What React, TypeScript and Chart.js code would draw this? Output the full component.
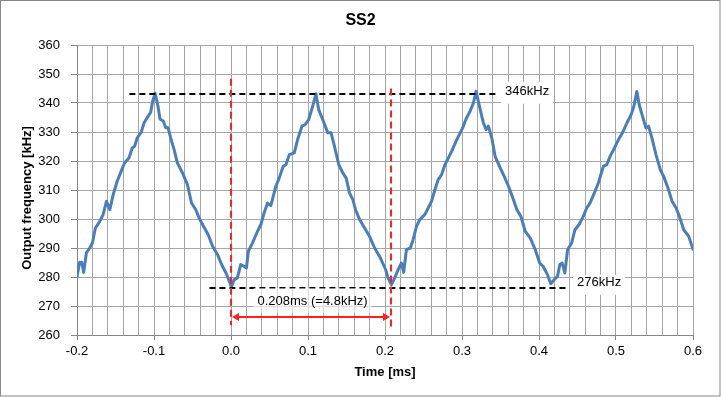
import React, { useEffect, useRef } from "react";
import { Chart, registerables } from "chart.js";

Chart.register(...registerables);

// ---- data ----
const timeMs: number[] = [
  -0.2, -0.1965, -0.1939, -0.1913, -0.1878, -0.1835, -0.18, -0.1761, -0.1704, -0.1661,
  -0.1617, -0.1574, -0.153, -0.1478, -0.1435, -0.1383, -0.1326, -0.1283, -0.1252, -0.1217,
  -0.1165, -0.113, -0.1078, -0.1043, -0.1022, -0.0987, -0.0948, -0.0922, -0.0878, -0.0848,
  -0.0817, -0.0783, -0.0739, -0.0696, -0.063, -0.0565, -0.0513, -0.0457, -0.0413, -0.0357,
  -0.0296, -0.0239, -0.0174, -0.0122, -0.0065, -0.0009, 0.0005, 0.0039, 0.0083, 0.0126,
  0.017, 0.02, 0.0226, 0.0278, 0.0343, 0.0387, 0.043, 0.0474, 0.0517, 0.0583,
  0.0626, 0.0678, 0.0713, 0.0757, 0.0822, 0.0865, 0.0922, 0.0965, 0.1009, 0.1061,
  0.1104, 0.1139, 0.12, 0.1257, 0.13, 0.1343, 0.14, 0.1452, 0.1496, 0.1539,
  0.1583, 0.1617, 0.167, 0.1735, 0.18, 0.1865, 0.193, 0.2009, 0.2039, 0.2083,
  0.2126, 0.217, 0.2213, 0.2243, 0.2278, 0.233, 0.2365, 0.2409, 0.2452, 0.2517,
  0.2561, 0.2604, 0.2648, 0.2691, 0.2735, 0.2778, 0.2822, 0.2865, 0.2922, 0.2965,
  0.3009, 0.3052, 0.3104, 0.3148, 0.3183, 0.3226, 0.3278, 0.3313, 0.3343, 0.3387,
  0.343, 0.3496, 0.3548, 0.3604, 0.3661, 0.3713, 0.3765, 0.3822, 0.3887, 0.3952,
  0.4009, 0.4053, 0.411, 0.4153, 0.4197, 0.424, 0.4271, 0.4301, 0.4336, 0.4371,
  0.4423, 0.4467, 0.4519, 0.4575, 0.4619, 0.4662, 0.4719, 0.4771, 0.4836, 0.488,
  0.4923, 0.498, 0.5032, 0.5084, 0.5141, 0.5197, 0.5232, 0.5271, 0.5301, 0.5345,
  0.5388, 0.5423, 0.5467, 0.5519, 0.5575, 0.5619, 0.5675, 0.5728, 0.578, 0.5823,
  0.588, 0.5945, 0.6,
];

const freqKHz: number[] = [
  280.2, 285.1, 285.1, 281.6, 288.3, 290.0, 291.7, 296.9, 299.2, 301.5,
  306.1, 303.2, 308.4, 313.0, 315.9, 319.3, 321.0, 324.5, 325.1, 328.0,
  330.0, 333.1, 335.4, 336.8, 340.0, 343.4, 338.9, 334.5, 333.7, 331.5,
  331.5, 327.9, 323.9, 319.3, 315.9, 311.8, 305.5, 303.2, 300.3, 297.5,
  294.6, 290.6, 287.7, 284.3, 281.4, 277.7, 276.6, 279.0, 279.7, 284.3,
  283.7, 283.1, 288.9, 291.7, 295.7, 298.0, 302.1, 305.5, 304.6, 311.3,
  314.1, 318.2, 318.7, 322.2, 322.8, 327.4, 332.0, 332.6, 334.3, 338.9,
  343.2, 337.7, 333.7, 329.7, 329.7, 325.1, 318.7, 315.9, 314.1, 309.0,
  306.7, 303.2, 299.8, 296.9, 294.0, 290.0, 287.1, 282.5, 279.7, 277.4,
  279.7, 282.5, 284.8, 281.6, 289.4, 290.0, 292.9, 297.5, 299.8, 301.5,
  303.8, 306.1, 310.1, 313.6, 315.3, 318.7, 321.0, 323.3, 326.8, 329.1,
  331.4, 334.5, 337.1, 340.0, 344.0, 338.9, 333.1, 330.8, 332.0, 327.9,
  321.6, 317.6, 314.7, 311.3, 307.2, 303.2, 300.9, 295.7, 293.4, 289.4,
  284.8, 283.7, 280.8, 277.7, 279.1, 280.2, 284.3, 284.8, 281.4, 289.4,
  291.7, 296.3, 298.0, 300.9, 303.8, 305.5, 309.0, 312.4, 318.2, 318.7,
  321.6, 324.5, 327.4, 329.7, 333.1, 336.0, 338.9, 344.0, 339.4, 335.4,
  331.4, 332.0, 327.9, 322.2, 317.0, 314.7, 310.7, 306.1, 303.8, 300.9,
  296.3, 294.0, 289.6,
];

// axis ranges / ticks
const xMin = -0.2;
const xMax = 0.6;
const xGridStep = 0.02;
const xLabelStep = 0.1;
const yMin = 260;
const yMax = 360;
const yStep = 10;

// texts
const chartTitle = "SS2";
const xTitle = "Time [ms]";
const yTitle = "Output frequency [kHz]";
const highLabel = "346kHz";
const lowLabel = "276kHz";
const periodLabel = "0.208ms (=4.8kHz)";

// annotation values, in data units
const highLevel = 343.2;
const highSpan = [-0.132, 0.347];
const highLabelAt = [0.356, 343.9];
const lowLevel = 276.1;
const lowSpan = [-0.028, 0.438];
const lowLabelAt = [0.4495, 278.0];
const markerTimes = [0, 0.208];
const markerTops = [348.4, 345.0];
const markerBottoms = [263.4, 262.3];
const arrowLevel = 266.2;
const periodLabelAt = [0.0344, 271.7];

const FONT = '"Liberation Sans", Arial, sans-serif';
const GRID = "#a6a6a6";
const AXIS = "#868686";
const RED = "#ff2020";

const isLabelTick = (v: number) =>
  Math.abs(Math.round(v / xLabelStep) * xLabelStep - v) < 1e-6;

const decorPlugin = {
  id: "decor",
  beforeDraw(chart: any) {
    const { ctx, width, height } = chart;
    ctx.save();
    ctx.fillStyle = "#ffffff";
    ctx.fillRect(0, 0, width, height);
    ctx.restore();
  },
  afterDatasetsDraw(chart: any) {
    const { ctx } = chart;
    const x = chart.scales.x;
    const y = chart.scales.y;
    const px = (v: number) => x.getPixelForValue(v);
    const py = (v: number) => y.getPixelForValue(v);
    ctx.save();

    // black dashed level lines
    ctx.strokeStyle = "#000000";
    ctx.lineWidth = 2;
    ctx.setLineDash([6, 4]);
    ctx.beginPath();
    ctx.moveTo(px(highSpan[0]), Math.round(py(highLevel)));
    ctx.lineTo(px(highSpan[1]), Math.round(py(highLevel)));
    ctx.moveTo(px(lowSpan[0]), Math.round(py(lowLevel)));
    ctx.lineTo(px(lowSpan[1]), Math.round(py(lowLevel)));
    ctx.stroke();

    // red dashed markers
    ctx.strokeStyle = RED;
    ctx.lineWidth = 2;
    ctx.setLineDash([7, 4]);
    ctx.beginPath();
    markerTimes.forEach((t, i) => {
      const xx = Math.round(px(t));
      ctx.moveTo(xx, py(markerTops[i]));
      ctx.lineTo(xx, py(markerBottoms[i]));
    });
    ctx.stroke();

    // red double arrow
    ctx.setLineDash([]);
    const ay = Math.round(py(arrowLevel));
    const ax1 = Math.round(px(markerTimes[0])) + 1;
    const ax2 = Math.round(px(markerTimes[1])) - 1;
    const head = 7;
    ctx.beginPath();
    ctx.moveTo(ax1 + head, ay);
    ctx.lineTo(ax2 - head, ay);
    ctx.stroke();
    ctx.fillStyle = RED;
    ctx.beginPath();
    ctx.moveTo(ax1, ay);
    ctx.lineTo(ax1 + head, ay - 4);
    ctx.lineTo(ax1 + head, ay + 4);
    ctx.closePath();
    ctx.fill();
    ctx.beginPath();
    ctx.moveTo(ax2, ay);
    ctx.lineTo(ax2 - head, ay - 4);
    ctx.lineTo(ax2 - head, ay + 4);
    ctx.closePath();
    ctx.fill();

    // labels
    ctx.font = `13px ${FONT}`;
    ctx.textBaseline = "middle";
    ctx.textAlign = "left";
    const label = (text: string, at: number[], bg: string, above: number, below: number) => {
      const lx = px(at[0]);
      const ly = py(at[1]);
      const w = ctx.measureText(text).width;
      ctx.fillStyle = bg;
      ctx.fillRect(lx - 4, ly - above, w + 8, above + below);
      ctx.fillStyle = "#000000";
      ctx.fillText(text, lx, ly);
    };
    label(highLabel, highLabelAt, "#ffffff", 10, 12);
    label(lowLabel, lowLabelAt, "#ffffff", 8, 12);
    label(periodLabel, periodLabelAt, "rgba(255,255,255,0.6)", 13, 12);
    ctx.restore();
  },
  afterDraw(chart: any) {
    const { ctx, width, height, chartArea } = chart;
    ctx.save();
    ctx.fillStyle = "#000000";
    ctx.textAlign = "center";
    ctx.textBaseline = "middle";
    ctx.font = `bold 16px ${FONT}`;
    ctx.fillText(chartTitle, width / 2, 21);
    ctx.font = `bold 13px ${FONT}`;
    ctx.fillText(xTitle, (chartArea.left + chartArea.right) / 2, 372);
    ctx.translate(27, 198);
    ctx.rotate(-Math.PI / 2);
    ctx.fillText(yTitle, 0, 0);
    ctx.restore();
    ctx.save();
    ctx.strokeStyle = AXIS;
    ctx.lineWidth = 1;
    ctx.strokeRect(0.5, 0.5, width - 1.5, height - 1.5);
    ctx.restore();
  },
};

export default function App() {
  const canvasRef = useRef<HTMLCanvasElement | null>(null);

  useEffect(() => {
    document.body.style.margin = "0";
    const canvas = canvasRef.current;
    if (!canvas) return;
    const points = timeMs.map((t, i) => ({ x: t, y: freqKHz[i] }));
    const chart = new Chart(canvas, {
      type: "line",
      data: {
        datasets: [
          {
            label: "Output frequency",
            data: points,
            borderColor: "#4a7ebb",
            borderWidth: 3,
            pointRadius: 0,
            tension: 0,
            fill: false,
            borderJoinStyle: "round",
            borderCapStyle: "round",
          },
        ],
      },
      options: {
        animation: false,
        responsive: false,
        devicePixelRatio: 1,
        layout: { padding: { left: 0, right: 28, top: 45, bottom: 0 } },
        plugins: {
          legend: { display: false },
          title: { display: false },
          tooltip: { enabled: false },
        },
        scales: {
          x: {
            type: "linear",
            min: xMin,
            max: xMax,
            afterFit: (s: any) => {
              s.height = 62;
            },
            ticks: {
              stepSize: xGridStep,
              autoSkip: false,
              maxRotation: 0,
              minRotation: 0,
              padding: 4,
              color: "#000000",
              font: { family: FONT, size: 13 },
              callback: (v: any) => {
                const n = Number(v);
                return isLabelTick(n) ? n.toFixed(1) : "";
              },
            },
            grid: {
              color: GRID,
              lineWidth: 1,
              tickLength: 5,
              tickColor: (c: any) =>
                c.tick && isLabelTick(Number(c.tick.value)) ? AXIS : "rgba(0,0,0,0)",
            },
            border: { color: AXIS, width: 1 },
          },
          y: {
            type: "linear",
            min: yMin,
            max: yMax,
            afterFit: (s: any) => {
              s.width = 77;
            },
            ticks: {
              stepSize: yStep,
              padding: 11,
              color: "#000000",
              font: { family: FONT, size: 13 },
            },
            grid: { color: GRID, lineWidth: 1, tickLength: 6, tickColor: AXIS },
            border: { color: AXIS, width: 1 },
          },
        },
      },
      plugins: [decorPlugin],
    });
    return () => chart.destroy();
  }, []);

  return (
    <canvas
      ref={canvasRef}
      width={721}
      height={397}
      style={{ display: "block", width: 721, height: 397 }}
    />
  );
}
